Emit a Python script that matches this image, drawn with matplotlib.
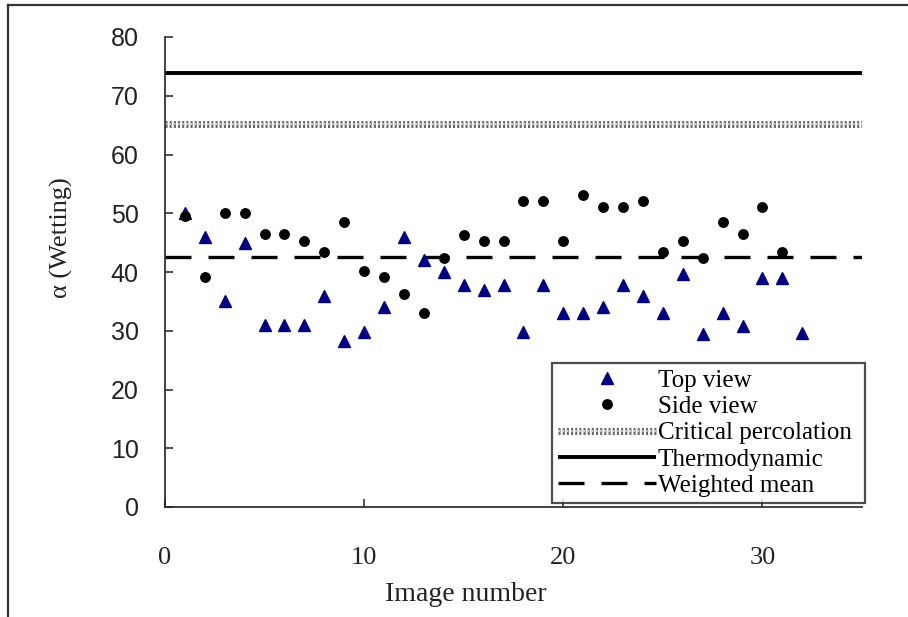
import matplotlib
matplotlib.use("Agg")
import matplotlib.pyplot as plt
import matplotlib.patheffects as pe
from matplotlib.lines import Line2D

# ---- data ----
image_top = list(range(1, 33))
top_view = [50, 46, 35, 45, 31, 31, 31, 36, 28.3, 29.8, 34, 46, 42, 40, 37.8, 36.9,
            37.8, 29.8, 37.8, 33, 33, 34, 37.8, 36, 33, 39.7, 29.5, 33, 30.8, 38.9,
            38.9, 29.7]
image_side = list(range(1, 32))
side_view = [49.5, 39.2, 50.1, 50.1, 46.4, 46.4, 45.3, 43.4, 48.5, 40.2, 39.2, 36.2,
             33.1, 42.3, 46.3, 45.3, 45.3, 52.1, 52.1, 45.3, 53.1, 51.1, 51.1, 52.1,
             43.4, 45.3, 42.3, 48.5, 46.4, 51.1, 43.4]
critical_percolation = 65.2
thermodynamic = 73.9
weighted_mean = 42.5
x_range = [0, 35]
x_ticks = [0, 10, 20, 30]
y_ticks = [0, 10, 20, 30, 40, 50, 60, 70, 80]

serif = ["Liberation Serif", "DejaVu Serif"]
sans = ["Liberation Sans", "DejaVu Sans"]

fig = plt.figure(figsize=(9.08, 6.17), dpi=100)
W, H = 908, 617
ax = fig.add_axes([165 / W, 1 - 507 / H, (862 - 165) / W, (507 - 37) / H])

# reference lines
crit_line, = ax.plot(x_range, [critical_percolation] * 2, color="#cfcfcf", lw=1.5,
                     linestyle=(0, (1, 1)), zorder=2,
                     label="Critical percolation",
                     path_effects=[pe.Stroke(linewidth=5.0, foreground="#666666"), pe.Normal()])
thermo_line, = ax.plot(x_range, [thermodynamic] * 2, color="black", lw=2.8, zorder=2,
                       label="Thermodynamic", solid_capstyle="butt")
mean_line, = ax.plot(x_range, [weighted_mean] * 2, color="black", lw=2.4, zorder=2,
                     linestyle=(0, (7.8, 5.1)), label="Weighted mean", dash_capstyle="butt")

# data points
top_pts, = ax.plot(image_top, top_view, linestyle="none", marker="^", ms=8.5,
                   color="#000080", mec="#000080", mew=1, zorder=3, label="Top view")
side_pts, = ax.plot(image_side, side_view, linestyle="none", marker="o", ms=6.8,
                    color="black", mec="black", mew=1, zorder=4, label="Side view")

ax.set_xlim(x_range)
ax.set_ylim(0, 80)
ax.set_xticks(x_ticks)
ax.set_yticks(y_ticks)

for s in ["top", "right"]:
    ax.spines[s].set_visible(False)
for s in ["left", "bottom"]:
    ax.spines[s].set_linewidth(1.2)
    ax.spines[s].set_color("#222222")

ax.tick_params(axis="both", direction="in", length=6, width=1.1, color="#222222")
ax.tick_params(axis="y", pad=19)
ax.tick_params(axis="x", pad=29)
for lab in ax.get_yticklabels():
    lab.set_fontfamily(sans)
    lab.set_fontsize(18)
    lab.set_color("#222222")
for lab in ax.get_xticklabels():
    lab.set_fontfamily(serif)
    lab.set_fontsize(19)
    lab.set_color("#222222")

ax.set_xlabel("Image number", fontfamily=serif, fontsize=20, color="#222222")
ax.xaxis.set_label_coords(0.432, -0.16)
ax.set_ylabel("α (Wetting)", fontfamily=serif, fontsize=19, color="#222222")
ax.yaxis.set_label_coords(-0.132, 0.574)

leg = ax.legend(handles=[top_pts, side_pts, crit_line, thermo_line, mean_line],
                loc="lower left", bbox_to_anchor=(0.555, 0.0085, 0.449, 0.3),
                mode="expand", borderaxespad=0, numpoints=1,
                prop={"family": serif, "size": 18},
                handlelength=3.9, handletextpad=0.08, labelspacing=0.15,
                borderpad=0.25, fancybox=False, frameon=True)
leg.get_frame().set_edgecolor("#222222")
leg.get_frame().set_linewidth(1.6)
leg.set_zorder(10)

# outer frame (left and top edges)
fig.add_artist(Line2D([7.5 / W, 7.5 / W], [0, 1 - 5 / H], color="#333333", lw=1.6))
fig.add_artist(Line2D([7.5 / W, 1], [1 - 5 / H, 1 - 5 / H], color="#333333", lw=1.6))

fig.savefig("out.png", dpi=100)
